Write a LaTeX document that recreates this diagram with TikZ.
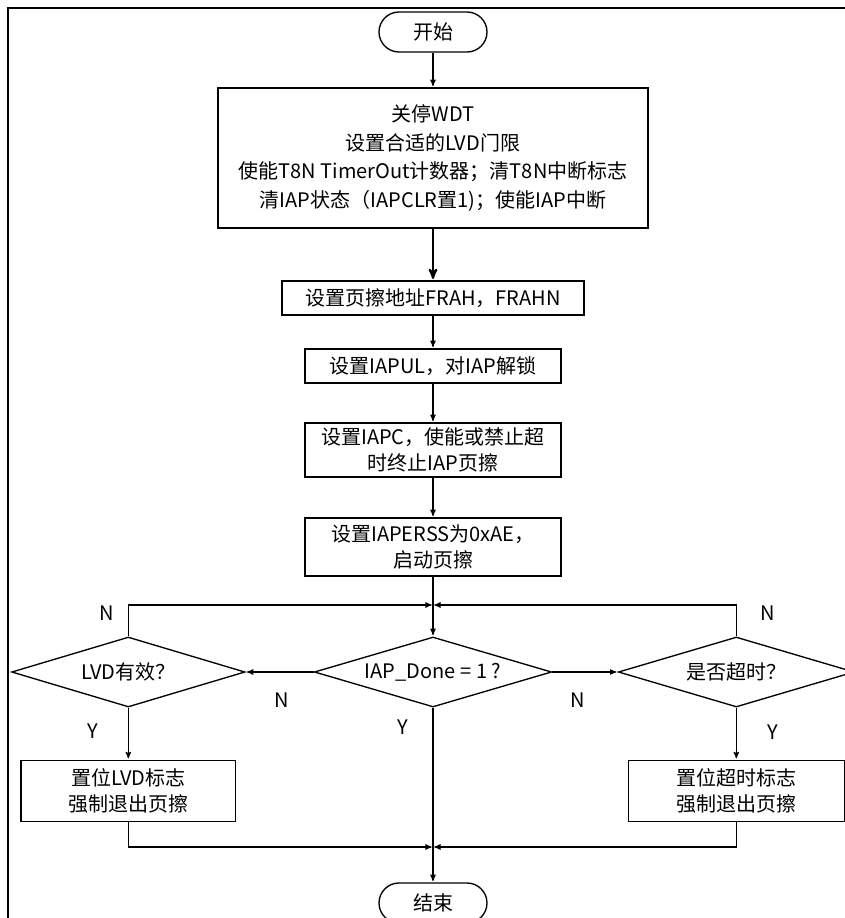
\documentclass[tikz,border=0pt]{standalone}
\usepackage{fontspec}
\setmainfont{Noto Sans CJK SC}
\usetikzlibrary{arrows}
\usetikzlibrary{calc}
\usetikzlibrary{shapes.geometric}

\begin{document}
\begin{tikzpicture}[x=0.75pt,y=-0.75pt,->,>=stealth',shorten >=1pt,thick,
  proc node/.style={rectangle,draw,line width=1pt,align=center,inner sep=0pt,font=\fontsize{15}{19.5}\selectfont},
  term node/.style={rectangle,draw,line width=1pt,rounded corners=15pt,minimum width=81pt,minimum height=30pt,font=\fontsize{15}{18}\selectfont},
  dec node/.style={diamond,draw,line width=1pt,inner sep=0pt,aspect=3.4,minimum width=178pt,minimum height=52.5pt,font=\fontsize{15}{18}\selectfont},
  yn node/.style={font=\fontsize{15}{18}\selectfont}]

				\useasboundingbox (0,0) rectangle (845,918);
				\draw[-,line width=1pt] (8,940) -- (8,8) -- (870,8);

				\node[term node] (start) at (433,32) {开始};
				\node[proc node,minimum width=322.5pt,minimum height=105pt,font=\fontsize{15}{21.4}\selectfont] (init) [below of = start,node distance=94.5pt] {关停WDT\\设置合适的LVD门限\\使能T8N TimerOut计数器；清T8N中断标志\\清IAP状态（IAPCLR置1)；使能IAP中断};
				\node[proc node,minimum width=226.5pt,minimum height=25.5pt] (addr) [below of = init,node distance=105pt] {设置页擦地址FRAH，FRAHN};
				\node[proc node,minimum width=192pt,minimum height=25.5pt] (unlock) [below of = addr,node distance=51pt] {设置IAPUL，对IAP解锁};
				\node[proc node,minimum width=192pt,minimum height=40.5pt] (iapc) [below of = unlock,node distance=63pt] {设置IAPC，使能或禁止超\\时终止IAP页擦};
				\node[proc node,minimum width=192pt,minimum height=43.5pt] (erss) [below of = iapc,node distance=72.75pt] {设置IAPERSS为0xAE，\\启动页擦};
				\node[dec node] (done) [below of = erss,node distance=93.75pt] {IAP\_Done = 1 ?};
				\node[dec node,minimum width=175pt] (lvd) [left of = done,node distance=228.5pt] {LVD有效？};
				\node[dec node,minimum width=177pt] (tmo) [right of = done,node distance=227.5pt] {是否超时？};
				\node[proc node,minimum width=161pt,minimum height=46pt] (lvdset) [below of = lvd,node distance=89.25pt] {置位LVD标志\\强制退出页擦};
				\node[proc node,minimum width=162pt,minimum height=46pt] (tmoset) [below of = tmo,node distance=89.25pt] {置位超时标志\\强制退出页擦};
				\node[term node] (stop) [below of = done,node distance=173.25pt] {结束};

				\coordinate (jtop) at (433,605);
				\coordinate (jbot) at (433,847);

				\node[yn node] (n1) at (107,613) {N};
				\node[yn node] (n2) at (768,613) {N};
				\node[yn node] (n3) at (282,700) {N};
				\node[yn node] (n4) at (578,700) {N};
				\node[yn node] (y1) at (93,731) {Y};
				\node[yn node] (y2) at (403,727) {Y};
				\node[yn node] (y3) at (773,732) {Y};

				\draw (start) -- (init);
				\draw[line width=1.6pt] (init) -- (addr);
				\draw (addr) -- (unlock);
				\draw (unlock) -- (iapc);
				\draw (iapc) -- (erss);
				\draw (erss) -- (done);
				\draw (done) -- (lvd);
				\draw (done) -- (tmo);
				\draw (lvd.north) |- (jtop);
				\draw (tmo.north) |- (jtop);
				\draw (lvd) -- (lvdset);
				\draw (tmo) -- (tmoset);
				\draw (lvdset.south) |- (jbot);
				\draw (tmoset.south) |- (jbot);
				\draw (done) -- (stop);

\end{tikzpicture}
\end{document}
